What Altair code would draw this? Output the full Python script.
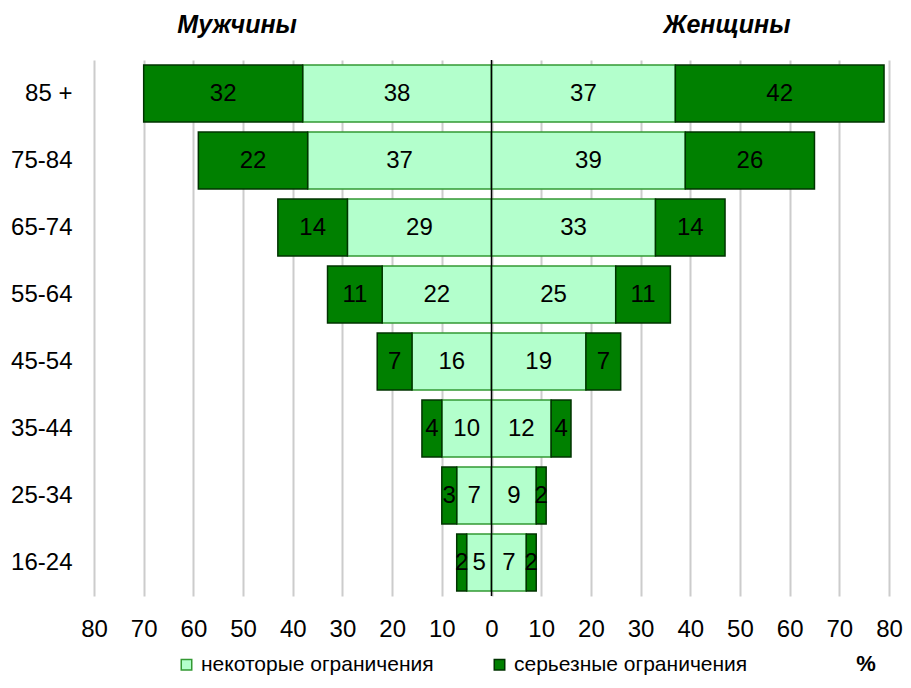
import altair as alt
import pandas as pd

ages = ["85 +", "75-84", "65-74", "55-64", "45-54", "35-44", "25-34", "16-24"]
men_some = [38, 37, 29, 22, 16, 10, 7, 5]
men_serious = [32, 22, 14, 11, 7, 4, 3, 2]
women_some = [37, 39, 33, 25, 19, 12, 9, 7]
women_serious = [42, 26, 14, 11, 7, 4, 2, 2]
types = ["некоторые ограничения", "серьезные ограничения"]
ticks = list(range(-80, 81, 10))

FONT = "Liberation Sans"
rows = []
for i, a in enumerate(ages):
    for sign, some, ser in ((-1, men_some[i], men_serious[i]), (1, women_some[i], women_serious[i])):
        rows.append(dict(age=a, type=types[0], x0=0, x1=sign * some, v=some, mid=sign * some / 2))
        rows.append(dict(age=a, type=types[1], x0=sign * some, x1=sign * (some + ser), v=ser,
                         mid=sign * (some + ser / 2)))
df = pd.DataFrame(rows)

xscale = alt.Scale(domain=[-80, 80], nice=False, zero=False)
yscale = alt.Scale(domain=ages, paddingInner=0.15, paddingOuter=0.075)
cscale = alt.Scale(domain=types, range=["#b3ffcc", "#008000"])
sscale = alt.Scale(domain=types, range=["#339933", "#003300"])

base = alt.Chart(df)

bars = base.mark_bar(strokeWidth=1.5, opacity=1).encode(
    x=alt.X("x0:Q", scale=xscale,
            axis=alt.Axis(values=ticks, labelExpr="abs(datum.value)", title=None, ticks=False,
                          domain=False, grid=True, gridColor="#cccccc", gridWidth=2,
                          labelFlush=False, labelOverlap=False,
                          labelFontSize=24, labelFont=FONT, labelColor="#000000", labelPadding=21)),
    x2="x1:Q",
    y=alt.Y("age:N", scale=yscale, sort=ages,
            axis=alt.Axis(title=None, ticks=False, domain=False, labelFontSize=24, labelFont=FONT,
                          labelColor="#000000", labelPadding=22)),
    color=alt.Color("type:N", scale=cscale,
                    legend=alt.Legend(title=None, orient="none", legendX=82, legendY=594,
                                      direction="horizontal", symbolType="square", symbolSize=110,
                                      symbolStrokeWidth=1.5, labelFontSize=21, labelFont=FONT,
                                      labelColor="#000000", labelLimit=400, columnPadding=55,
                                      labelOffset=4)),
    stroke=alt.Stroke("type:N", scale=sscale, legend=None),
    order=alt.Order("type:N"),
)

labels = base.mark_text(fontSize=24, font=FONT, color="#000000").encode(
    x=alt.X("mid:Q", scale=xscale),
    y=alt.Y("age:N", scale=yscale, sort=ages),
    text="v:N",
)

zero = alt.Chart(pd.DataFrame({"x": [0]})).mark_rule(color="#000000", strokeWidth=1.5).encode(
    x=alt.X("x:Q", scale=xscale)
)

titles_df = pd.DataFrame({"t": ["Мужчины", "Женщины"], "px": [143, 633]})
titles = alt.Chart(titles_df).mark_text(fontSize=25, font=FONT, fontWeight="bold",
                                        fontStyle="italic", color="#000000", baseline="alphabetic").encode(
    x=alt.X("px:Q", scale=None), y=alt.value(-27), text="t:N"
)

pct = alt.Chart(pd.DataFrame({"t": ["%"]})).mark_text(fontSize=22, font=FONT, fontWeight="bold",
                                                       color="#000000").encode(
    x=alt.value(772), y=alt.value(604), text="t:N"
)

chart = alt.layer(bars, zero, labels, titles, pct).properties(
    width=795, height=536,
    autosize=alt.AutoSizeParams(type="none"),
    padding={"left": 86, "top": 52, "right": 14, "bottom": 84},
).configure_view(stroke=None)

chart.save("out.html", embed_options={"renderer": "svg", "actions": False})
